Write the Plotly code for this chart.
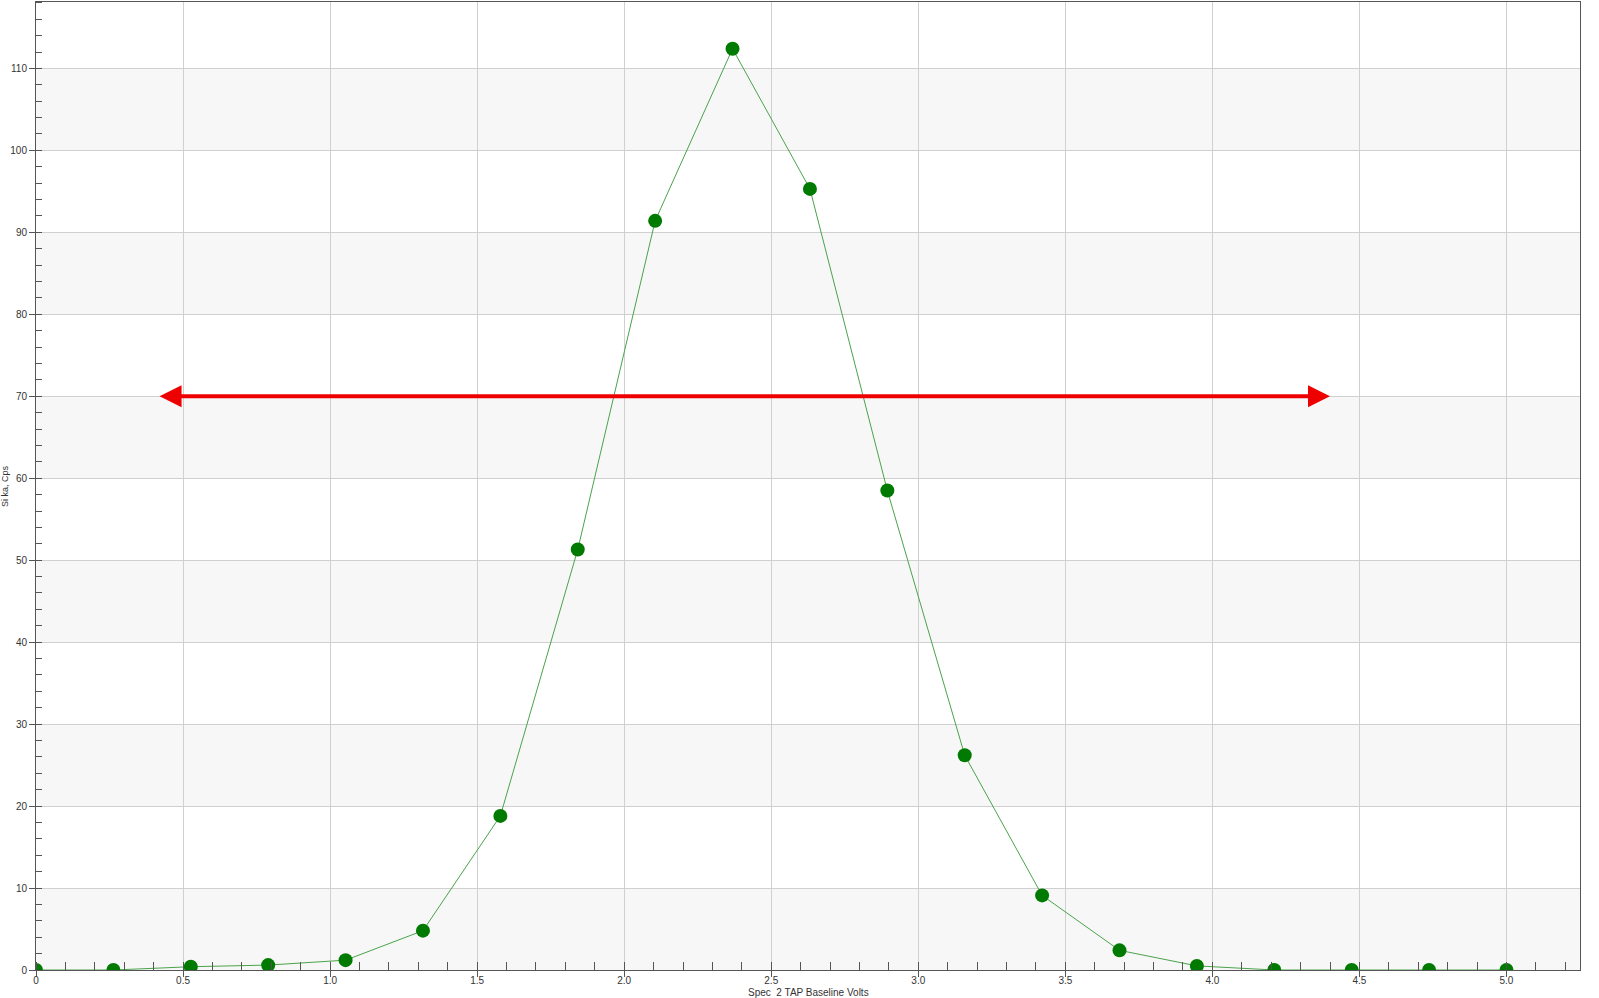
import plotly.graph_objects as go

volts = [i * 5.0 / 19 for i in range(20)]
counts = [0, 0, 0.4, 0.6, 1.2, 4.8, 18.8, 51.3, 91.4, 112.4, 95.3, 58.5, 26.2, 9.1, 2.4, 0.5, 0, 0, 0, 0]

x_ticks = [0, 0.5, 1.0, 1.5, 2.0, 2.5, 3.0, 3.5, 4.0, 4.5, 5.0]
x_tick_labels = ["0", "0.5", "1.0", "1.5", "2.0", "2.5", "3.0", "3.5", "4.0", "4.5", "5.0"]
y_ticks = [0, 10, 20, 30, 40, 50, 60, 70, 80, 90, 100, 110]
band_starts = [0, 20, 40, 60, 80, 100]
arrow_level = 70
arrow_from = 0.415
arrow_to = 4.40

fig = go.Figure()
fig.add_trace(go.Scatter(
    x=volts, y=counts, mode="lines+markers",
    line=dict(color="#4aa34a", width=1),
    marker=dict(color="#007a00", size=14),
    showlegend=False,
))

shapes = []
for b in band_starts:
    shapes.append(dict(type="rect", xref="paper", yref="y", x0=0, x1=1, y0=b, y1=b + 10,
                       fillcolor="#f7f7f7", line=dict(width=0), layer="below"))
fig.update_layout(shapes=shapes)

fig.add_annotation(x=arrow_to, y=arrow_level, ax=arrow_from, ay=arrow_level,
                   xref="x", yref="y", axref="x", ayref="y", text="",
                   showarrow=True, arrowhead=2, startarrowhead=2, arrowside="end+start",
                   arrowwidth=4, arrowsize=1.1, startarrowsize=1.1, arrowcolor="#ee0000")

font_family = "Liberation Sans, Arial, sans-serif"
fig.add_annotation(text="Spec  2 TAP Baseline Volts", xref="paper", yref="paper",
                   x=0.5, y=0, yanchor="top", yshift=-15, showarrow=False,
                   font=dict(family=font_family, size=10, color="#333"))
fig.add_annotation(text="Si ka, Cps", xref="paper", yref="paper", textangle=-90,
                   x=0, y=0.5, xanchor="center", xshift=-31, showarrow=False,
                   font=dict(family=font_family, size=9, color="#333"))

axis_font = dict(family=font_family, size=10, color="#333")
fig.update_xaxes(
    range=[0, 5.25], tickvals=x_ticks, ticktext=x_tick_labels, automargin=False,
    ticks="outside", ticklen=6, tickcolor="#555", tickfont=axis_font, ticklabelstandoff=-5,
    showgrid=True, gridcolor="#d0d0d0", gridwidth=1,
    showline=True, linecolor="#555", linewidth=1, mirror=True, zeroline=False,
    minor=dict(dtick=0.1, ticks="inside", ticklen=8, tickcolor="#555", showgrid=False),
)
fig.update_yaxes(
    range=[0, 118.1], tickvals=y_ticks, automargin=False,
    ticks="outside", ticklen=6, tickcolor="#555", tickfont=axis_font,
    showgrid=True, gridcolor="#d0d0d0", gridwidth=1,
    showline=True, linecolor="#555", linewidth=1, mirror=True, zeroline=False,
    minor=dict(dtick=2, ticks="inside", ticklen=6, tickcolor="#555", showgrid=False),
)
fig.update_layout(
    width=1599, height=998,
    margin=dict(l=36, r=19, t=2, b=28),
    plot_bgcolor="white", paper_bgcolor="white",
)
fig.write_html("out.html", config={"displayModeBar": False},
               post_script="document.body.style.margin='0';document.body.style.overflow='hidden';")
